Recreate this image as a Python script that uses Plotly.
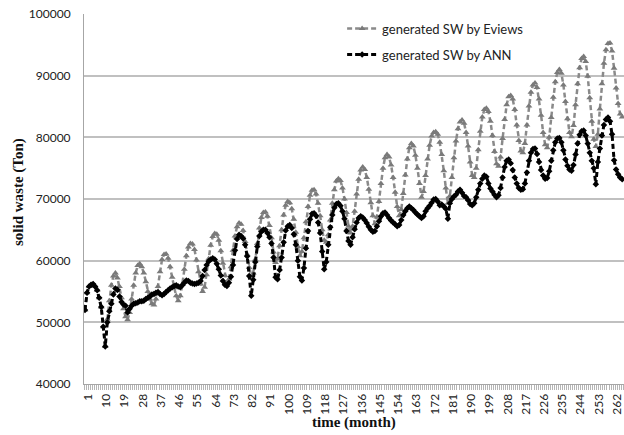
import plotly.graph_objects as go

# month index (category axis)
months = list(range(1, 267))

# generated solid waste by Eviews (Ton)
eviews = [
    52000, 54800, 55800, 56100, 56200, 55800, 55200, 54000, 52500, 49300, 46100, 50500,
    53500, 56000, 57500, 58000, 57200, 55800, 54000, 52200, 50900, 50400, 51600, 53800,
    56000, 58000, 59200, 59500, 59000, 58000, 56600, 55000, 53800, 53000, 52800, 53800,
    55800, 58200, 60200, 61000, 61100, 60400, 59000, 57300, 55600, 54300, 53500, 54300,
    56200, 58600, 60800, 62200, 62800, 62700, 61800, 60100, 58200, 56200, 55000, 55700,
    57700, 60300, 62500, 63900, 64400, 64300, 63300, 61600, 59600, 57600, 56300, 57000,
    59000, 61700, 64000, 65500, 66100, 65900, 64900, 63100, 61000, 58900, 57300, 58000,
    60200, 62800, 65300, 67000, 67800, 67900, 67200, 65700, 63700, 61400, 59700, 60300,
    62400, 65000, 67400, 69000, 69600, 69400, 68400, 66700, 64600, 62300, 60800, 61500,
    63700, 66300, 68800, 70600, 71400, 71500, 70800, 69300, 67300, 65000, 63300, 63000,
    64200, 66600, 69300, 71500, 72900, 73300, 73000, 71800, 70000, 67800, 65600, 64500,
    65600, 68000, 70800, 73200, 74700, 75200, 74800, 73500, 71600, 69400, 67300, 66000,
    67100, 69600, 72500, 75000, 76700, 77200, 76800, 75500, 73500, 71100, 68800, 67300,
    68300, 70900, 73900, 76500, 78300, 79000, 78600, 77100, 75000, 72500, 70300, 71200,
    73800, 76500, 78700, 80200, 80800, 80900, 80500, 79200, 77200, 74600, 71800, 69300,
    70500, 73500, 76700, 79400, 81400, 82500, 82800, 82300, 80800, 78600, 76000, 73800,
    73500, 75000, 78000, 81000, 83300, 84500, 84700, 84200, 82600, 80300, 77700, 75700,
    75300, 76800, 79800, 82900, 85300, 86600, 86800, 86200, 84500, 82000, 79500, 77800,
    77500, 79000, 82000, 85100, 87300, 88500, 88800, 88100, 86200, 83600, 80800, 78800,
    78300, 80000, 83200, 86500, 89000, 90500, 91000, 90400, 88500, 85800, 83000, 80800,
    80100, 81900, 85300, 88700, 91300, 92800, 93100, 92300, 89900, 86400, 82600, 79700,
    78500, 80500, 84600, 88700, 92000, 94200, 95200, 95300, 94000, 91200, 88000, 85500,
    83800, 83300,
]

# generated solid waste by ANN (Ton)
ann = [
    52000, 54800, 55800, 56100, 56200, 55800, 55200, 54000, 52500, 49300, 46100, 50000,
    51800, 53000, 54500, 55500, 55300, 54200, 53300, 52900, 52700, 51600, 52200, 52700,
    53000, 53100, 53200, 53400, 53400, 53500, 53800, 54000, 54200, 54500, 54600, 54800,
    54900, 54600, 54400, 54600, 54900, 55200, 55500, 55700, 55900, 56000, 55800, 55700,
    56000, 56400, 56800, 56700, 56400, 56300, 56200, 56300, 56400, 56700, 57500, 58500,
    59300, 59900, 60200, 60400, 60200, 59500, 58600, 57600, 56700, 56100, 55900, 56400,
    57400, 59300, 61700, 63500, 64200, 64000, 63600, 62600, 60700, 57500, 54300, 56900,
    59800, 62300, 64000, 64700, 65000, 65000, 64500, 63800, 62800, 60500, 57300, 57000,
    58500, 60500, 63000, 64900, 65600, 65800, 65300, 64300, 62600, 60000, 57400, 56800,
    58800, 62000, 64800, 66700, 67600, 67700, 67300, 66200, 64500, 61500, 58600, 59800,
    62600, 65400, 67400, 68600, 69200, 69300, 68900, 68000, 66800, 64800, 63200, 62600,
    63800, 65100, 66200, 66900, 67200, 67000, 66600, 66100, 65500, 65000, 64700, 64800,
    65600, 66400, 67200, 67700, 67800, 67400, 66900, 66500, 66200, 65900, 65600, 65800,
    66600, 67400, 68000, 68500, 68800, 68500, 68200, 67800, 67500, 67200, 66900, 67200,
    68000, 68500, 68900, 69400, 69900, 70000, 69600, 69000, 69100, 68800, 68400, 66800,
    69300, 70000, 70400, 70700, 71200, 71500, 71000, 70500, 70300, 69800, 69200, 69000,
    69300, 70300, 71500, 72500, 73300, 73800, 73600, 72500, 71700, 71200, 70700, 70300,
    70600, 71800, 73500, 75200, 76200, 76400, 75800, 74700, 73500, 72500, 71800, 71500,
    71600, 72500, 74300, 76200, 77500, 78100, 78200, 77300, 76000, 74700, 73800, 73300,
    73400, 74500, 76200, 77900, 79200, 79800, 79900, 79200, 77900, 76400, 75400, 74800,
    74600, 75500, 77200, 79000, 80400, 81000, 81100, 80300, 79000, 77500, 76200, 75000,
    72400, 76000, 78200, 80300, 82000, 82900, 83200, 82600, 80500, 76300, 74800, 74000,
    73500, 73200,
]

# labelled months on the x axis
tick_months = [1, 10, 19, 28, 37, 46, 55, 64, 73, 82, 91, 100, 109, 118, 127,
               136, 145, 154, 163, 172, 181, 190, 199, 208, 217, 226, 235, 244, 253, 262]
tick_labels = [str(m) for m in tick_months]

# y axis ticks
y_ticks = [40000, 50000, 60000, 70000, 80000, 90000, 100000]

fig = go.Figure()
fig.add_trace(go.Scatter(
    x=months, y=eviews, name="generated SW by Eviews", legendgroup="a",
    mode="lines+markers",
    line=dict(color="#8a8a8a", width=2.5, dash="5px,3px"),
    marker=dict(symbol="triangle-up", size=6, color="#7a7a7a"),
))
fig.add_trace(go.Scatter(
    x=months, y=ann, name="generated SW by ANN", legendgroup="b",
    mode="lines+markers",
    line=dict(color="#000000", width=3, dash="5px,3px"),
    marker=dict(symbol="diamond", size=5, color="#000000"),
))

fig.update_layout(
    width=624, height=435,
    margin=dict(l=84, r=0, t=14, b=51, autoexpand=False),
    paper_bgcolor="white", plot_bgcolor="white",
    showlegend=True,
    legend=dict(
        x=0.478, y=1.001, xanchor="left", yanchor="top",
        bgcolor="rgba(0,0,0,0)",
        font=dict(family="Lato", size=13, color="#222222"),
        tracegroupgap=6,
    ),
    xaxis=dict(
        range=[0.5, 266.9],
        automargin=False,
        tickmode="array", tickvals=tick_months, ticktext=tick_labels,
        tickangle=-90,
        ticks="",
        showline=True, linecolor="#a6a6a6", linewidth=1,
        showgrid=False, zeroline=False,
        tickfont=dict(family="Lato", size=12, color="#222222"),
        ticklabelstandoff=4,
        ticklabelshift=3,
        minor=dict(ticks="outside", tick0=0.5, dtick=1, ticklen=5,
                   tickcolor="#b5b5b5", tickwidth=1, showgrid=False),
    ),
    yaxis=dict(
        range=[40000, 100000],
        automargin=False,
        tickmode="array", tickvals=y_ticks, ticktext=[str(v) for v in y_ticks],
        showgrid=True, gridcolor="#c0c0c0", gridwidth=1.5,
        showline=True, linecolor="#a6a6a6", linewidth=1,
        zeroline=False,
        ticks="",
        tickfont=dict(family="Lato", size=12, color="#222222"),
        ticklabelstandoff=10,
    ),
    annotations=[
        dict(text="<b>solid waste (Ton)</b>", xref="paper", yref="paper",
             x=-0.1215, y=0.52, xanchor="center", yanchor="middle",
             textangle=-90, showarrow=False,
             font=dict(family="Liberation Serif", size=15, color="#111111")),
        dict(text="<b>time (month)</b>", xref="paper", yref="paper",
             x=0.5, y=-0.103, xanchor="center", yanchor="middle",
             showarrow=False,
             font=dict(family="Liberation Serif", size=15, color="#111111")),
    ],
)

fig.write_html("out.html", config={"displayModeBar": False},
               post_script="document.body.style.margin='0';")
